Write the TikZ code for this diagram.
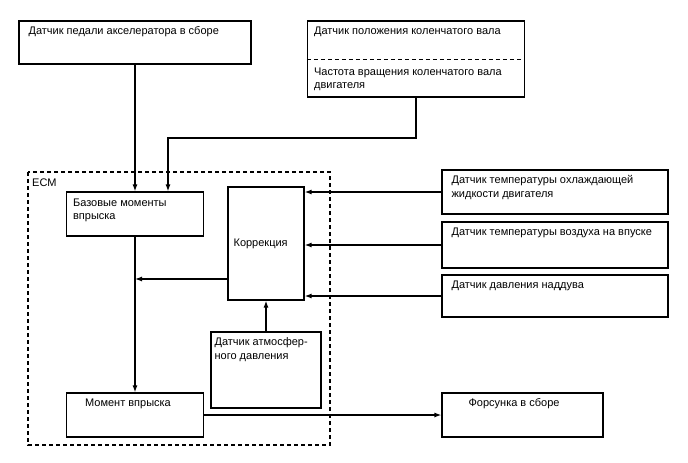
\documentclass[tikz,border=0pt]{standalone}
\usepackage{fontspec}
\setmainfont{Liberation Sans}
\usetikzlibrary{arrows.meta}

\begin{document}
\begin{tikzpicture}[x=1pt,y=-1pt,>={Latex[length=7pt,width=5pt]},
  bloc/.style={draw, line width=1.2pt, inner sep=0pt},
  fleche/.style={->, line width=1.2pt},
  pointille/.style={dash pattern=on 4pt off 3pt, line width=1.3pt},
  txt/.style={anchor=north west, inner sep=0pt, align=left, font=\fontsize{11}{13.5}\selectfont}]
\useasboundingbox (0,0) rectangle (688,463);

%capteurs en haut
\node[bloc, minimum width=232, minimum height=43] (pedal) at (135,42.5) {};
\node[txt] at ([shift={(10,6)}]pedal.north west) {Датчик педали акселератора в сборе};

\node[bloc, minimum width=217, minimum height=76] (crank) at (416,59) {};
\draw[pointille, line width=1pt] (crank.west) -- (crank.east);
\node[txt] at ([shift={(7,6)}]crank.north west) {Датчик положения коленчатого вала};
\node[txt] at ([shift={(7,47)}]crank.north west) {Частота вращения коленчатого вала\\двигателя};

%ECM
\draw[pointille] (28,172) rectangle (330,445);
\node[txt] (ecm) at (32,179) {ECM};

\node[bloc, minimum width=137, minimum height=44] (base) at (135,214) {};
\node[txt] at ([shift={(7,7)}]base.north west) {Базовые моменты\\впрыска};

\node[bloc, minimum width=76, minimum height=113] (korr) at (266,243.5) {};
\node[txt, anchor=west] at ([xshift=6]korr.west) {Коррекция};

\node[bloc, minimum width=110, minimum height=76] (atm) at (266,370) {};
\node[txt] at ([shift={(4,6)}]atm.north west) {Датчик атмосфер-\\ного давления};

\node[bloc, minimum width=137, minimum height=44] (moment) at (135,415) {};
\node[txt] at ([shift={(19,6)}]moment.north west) {Момент впрыска};

%capteurs a droite
\node[bloc, minimum width=226, minimum height=44] (coolant) at (555,192) {};
\node[txt] at ([shift={(10,6)}]coolant.north west) {Датчик температуры охлаждающей\\жидкости двигателя};

\node[bloc, minimum width=226, minimum height=46] (air) at (555,245) {};
\node[txt] at ([shift={(10,6)}]air.north west) {Датчик температуры воздуха на впуске};

\node[bloc, minimum width=226, minimum height=42] (boost) at (555,296) {};
\node[txt] at ([shift={(10,6)}]boost.north west) {Датчик давления наддува};

\node[bloc, minimum width=161, minimum height=44] (inj) at (522.5,415) {};
\node[txt] at ([shift={(27,6)}]inj.north west) {Форсунка в сборе};

%liaisons
\draw[fleche] (pedal.south) -- (pedal.south |- base.north);
\coordinate (coude) at (168,138);
\draw[fleche] (crank.south) |- (coude) -- (coude |- base.north);
\draw[fleche] (coolant.west) -- (coolant.west -| korr.east);
\draw[fleche] (air.west) -- (air.west -| korr.east);
\draw[fleche] (boost.west) -- (boost.west -| korr.east);
\coordinate (sortie) at (korr.west |- 0,279);
\draw[fleche] (sortie) -- (sortie -| base.south);
\draw[fleche] (base.south) -- (moment.north);
\draw[fleche] (atm.north) -- (korr.south);
\draw[fleche] (moment.east) -- (inj.west);

\end{tikzpicture}
\end{document}
